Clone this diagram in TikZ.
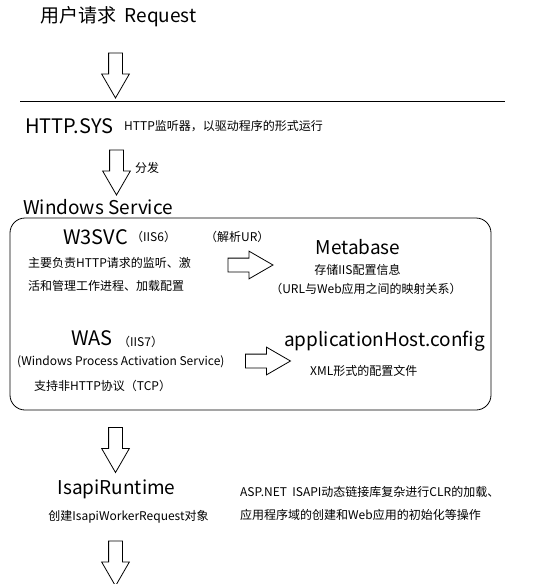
\documentclass[tikz,border=0pt]{standalone}
\usepackage{fontspec}
\setmainfont{Noto Sans CJK SC}
\usetikzlibrary{shapes.arrows}

\begin{document}
\begin{tikzpicture}[x=1pt, y=-1pt,
        title/.style={inner sep=0pt, font=\fontsize{19}{21}\selectfont},
        bigtitle/.style={inner sep=0pt, font=\fontsize{20}{22}\selectfont},
        note/.style={inner sep=0pt, font=\fontsize{12}{14}\selectfont},
        blockarr/.style={single arrow, draw, line width=0.8pt,
                         inner xsep=0pt, inner ysep=6.5pt,
                         minimum height=45pt, minimum width=0pt,
                         single arrow head extend=7pt, single arrow tip angle=60},
        downarr/.style={blockarr, rotate=-90},
        panel/.style={draw, line width=0.8pt, rounded corners=15pt,
                      minimum width=481pt, minimum height=192pt},
      ]
        \useasboundingbox (0,0) rectangle (534,584);

        \node[title, anchor=west] (req) at (40,17) {用户请求\hspace{0.45em}Request};
        \node[downarr] (arr1) at (115.5,69.5) {};

        \coordinate (ruleL) at (20,101);
        \coordinate (ruleR) at (505,101);
        \draw[line width=0.8pt] (ruleL) -- (ruleR);

        \node[bigtitle, anchor=west] (httpsys) at (25,126) {HTTP.SYS};
        \node[note, anchor=west]  (httpnote) at (124,126) {HTTP监听器，以驱动程序的形式运行};
        \node[downarr] (arr2) at (116.5,166.5) {};
        \node[note, anchor=west]  (fenfa)    at (135,168) {分发};

        \node[title, anchor=west] (winsvc) at (23,207) {Windows Service};
        \node[panel] (svc) at (250.5,314) {};

        \node[bigtitle, anchor=west] (w3svc) at (63,237)  {W3SVC};
        \node[note, anchor=west]  (iis6)    at (131,237) {（IIS6）};
        \node[note, anchor=west]  (parse)   at (205,237) {（解析UR）};
        \node[note, anchor=west]  (w3noteA) at (28,263)  {主要负责HTTP请求的监听、激};
        \node[note, anchor=west]  (w3noteB) at (28,286)  {活和管理工作进程、加载配置};
        \node[blockarr] (arrR1) at (244.5,265) {};

        \node[title] (metabase) at (358,247)   {Metabase};
        \node[note]  (metaA)    at (357.5,270) {存储IIS配置信息};
        \node[note]  (metaB)    at (366,289)   {（URL与Web应用之间的映射关系）};

        \node[bigtitle, anchor=west] (was) at (71,338)  {WAS};
        \node[note, anchor=west]  (iis7)    at (118,342) {（IIS7）};
        \node[note, anchor=west]  (wasfull) at (17,362)  {(Windows Process Activation Service)};
        \node[note, anchor=west]  (wasnote) at (34,386)  {支持非HTTP协议（TCP）};
        \node[blockarr] (arrR2) at (262,361) {};

        \node[title, anchor=west] (apphost) at (284,341) {applicationHost.config};
        \node[note, anchor=west]  (xmlnote) at (310,371) {XML形式的配置文件};

        \node[downarr] (arr3) at (115.5,444) {};
        \node[title] (isapi)     at (116.5,489) {IsapiRuntime};
        \node[note]  (isapinote) at (128.5,517) {创建IsapiWorkerRequest对象};
        \node[note, anchor=west] (aspA) at (240,492) {ASP.NET\ \ ISAPI动态链接库复杂进行CLR的加载、};
        \node[note, anchor=west] (aspB) at (240,515) {应用程序域的创建和Web应用的初始化等操作};
        \node[downarr] (arr4) at (115.5,557.5) {};
      \end{tikzpicture}
\end{document}
